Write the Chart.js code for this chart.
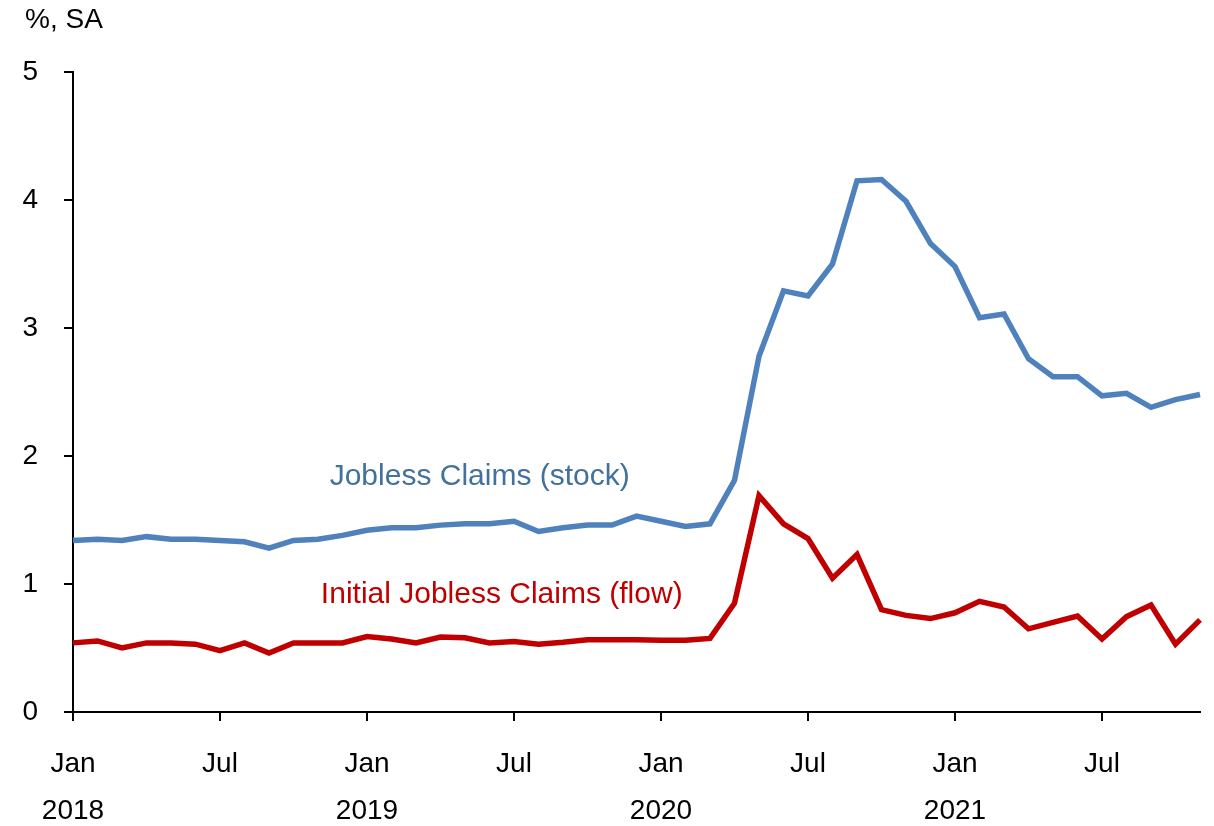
<!DOCTYPE html>
<html>
<head>
<meta charset="utf-8">
<script src="https://cdn.jsdelivr.net/npm/chart.js@4.4.1/dist/chart.umd.min.js"></script>
<style>
  html, body { margin: 0; padding: 0; background: #fff; }
  #wrap { width: 1214px; height: 826px; position: relative; }
</style>
</head>
<body>
<div id="wrap"><canvas id="claims-chart"></canvas></div>
<script>
// Monthly, Jan 2018 - Nov 2021
const months = [
  'Jan 2018','Feb 2018','Mar 2018','Apr 2018','May 2018','Jun 2018','Jul 2018','Aug 2018','Sep 2018','Oct 2018','Nov 2018','Dec 2018',
  'Jan 2019','Feb 2019','Mar 2019','Apr 2019','May 2019','Jun 2019','Jul 2019','Aug 2019','Sep 2019','Oct 2019','Nov 2019','Dec 2019',
  'Jan 2020','Feb 2020','Mar 2020','Apr 2020','May 2020','Jun 2020','Jul 2020','Aug 2020','Sep 2020','Oct 2020','Nov 2020','Dec 2020',
  'Jan 2021','Feb 2021','Mar 2021','Apr 2021','May 2021','Jun 2021','Jul 2021','Aug 2021','Sep 2021','Oct 2021','Nov 2021'
];

const stockClaims = [
  1.34, 1.35, 1.34, 1.37, 1.35, 1.35, 1.34, 1.33, 1.28, 1.34, 1.35, 1.38,
  1.42, 1.44, 1.44, 1.46, 1.47, 1.47, 1.49, 1.41, 1.44, 1.46, 1.46, 1.53,
  1.49, 1.45, 1.47, 1.81, 2.78, 3.29, 3.25, 3.50, 4.15, 4.16, 3.99, 3.66,
  3.48, 3.08, 3.11, 2.76, 2.62, 2.62, 2.47, 2.49, 2.38, 2.44, 2.48
];

const flowClaims = [
  0.54, 0.555, 0.50, 0.54, 0.54, 0.53, 0.48, 0.54, 0.46, 0.54, 0.54, 0.54,
  0.59, 0.57, 0.54, 0.585, 0.58, 0.54, 0.55, 0.53, 0.545, 0.565, 0.565, 0.565,
  0.56, 0.56, 0.575, 0.85, 1.69, 1.47, 1.355, 1.045, 1.23, 0.80, 0.755, 0.73,
  0.775, 0.865, 0.82, 0.65, 0.70, 0.75, 0.57, 0.745, 0.835, 0.53, 0.72
];

const shownMonths = ['Jan', 'Jul'];
const unitLabel = '%, SA';

// series labels sit inside the plot, placed in data units
const seriesNotes = [
  { text: 'Jobless Claims (stock)', x: 16.6, y: 1.84, color: '#41719C' },
  { text: 'Initial Jobless Claims (flow)', x: 17.5, y: 0.915, color: '#C00000' }
];

const FONT = 'Liberation Sans';

const notesPlugin = {
  id: 'notes',
  afterDraw(chart) {
    const ctx = chart.ctx;
    const xs = chart.scales.x, ys = chart.scales.y;
    ctx.save();
    ctx.font = '28px "' + FONT + '"';
    ctx.fillStyle = '#000';
    ctx.textAlign = 'left';
    ctx.textBaseline = 'middle';
    ctx.fillText(unitLabel, 25, 20);
    ctx.font = '30px "' + FONT + '"';
    ctx.textAlign = 'center';
    seriesNotes.forEach(n => {
      ctx.fillStyle = n.color;
      ctx.fillText(n.text, xs.getPixelForValue(n.x), ys.getPixelForValue(n.y));
    });
    ctx.restore();
  }
};

const claimsChart = new Chart(document.getElementById('claims-chart').getContext('2d'), {
  type: 'line',
  data: {
    labels: months,
    datasets: [
      {
        label: 'Jobless Claims (stock)',
        data: stockClaims,
        borderColor: '#4F81BD',
        borderWidth: 5.5,
        pointRadius: 0,
        tension: 0
      },
      {
        label: 'Initial Jobless Claims (flow)',
        data: flowClaims,
        borderColor: '#C00000',
        borderWidth: 5.5,
        pointRadius: 0,
        tension: 0
      }
    ]
  },
  options: {
    responsive: true,
    maintainAspectRatio: false,
    animation: false,
    layout: { padding: { top: 72, right: 14, left: 22, bottom: 0 } },
    plugins: {
      legend: { display: false },
      tooltip: { enabled: false }
    },
    scales: {
      x: {
        offset: false,
        afterBuildTicks(scale) {
          scale.ticks = scale.ticks.filter(t => shownMonths.includes(months[t.value].split(' ')[0]));
        },
        afterFit(scale) { scale.height = 114; },
        ticks: {
          autoSkip: false,
          maxRotation: 0,
          color: '#000',
          padding: 20,
          font: { family: FONT, size: 28, lineHeight: 1.68 },
          callback(value) {
            const [mon, yr] = months[value].split(' ');
            return mon === 'Jan' ? [mon, yr] : [mon, ''];
          }
        },
        grid: { display: true, drawOnChartArea: false, drawTicks: true, tickLength: 9, color: '#000', lineWidth: 2 },
        border: { display: true, color: '#000', width: 2 }
      },
      y: {
        min: 0,
        max: 5,
        afterFit(scale) { scale.width = 51; },
        ticks: {
          stepSize: 1,
          color: '#000',
          padding: 26,
          font: { family: FONT, size: 28 }
        },
        grid: { display: true, drawOnChartArea: false, drawTicks: true, tickLength: 9, color: '#000', lineWidth: 2 },
        border: { display: true, color: '#000', width: 2 }
      }
    }
  },
  plugins: [notesPlugin]
});
</script>
</body>
</html>
